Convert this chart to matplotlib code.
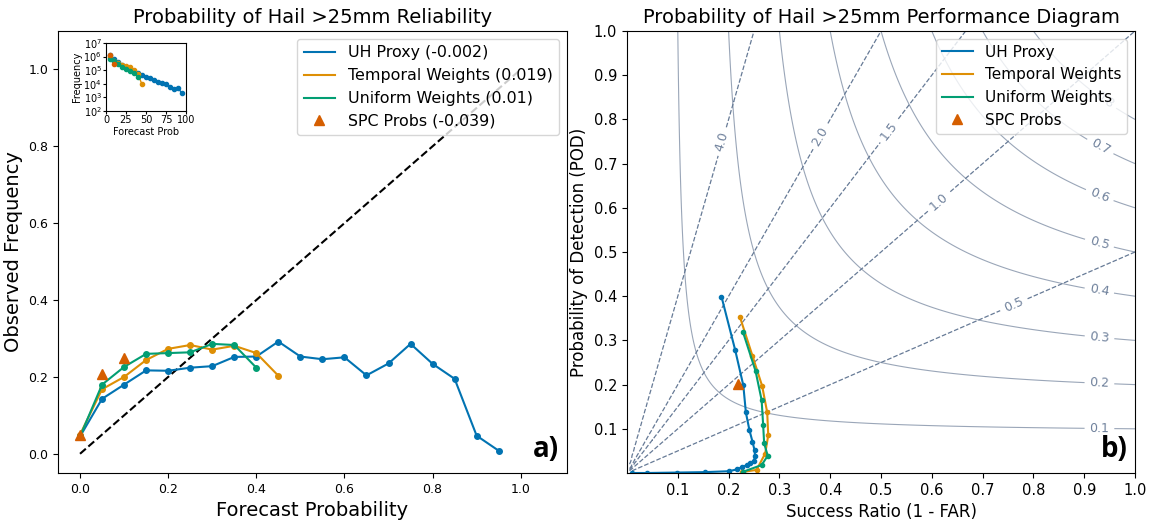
import numpy as np
import matplotlib
matplotlib.use('Agg')
import matplotlib.pyplot as plt
from matplotlib.lines import Line2D

# colours (seaborn colorblind)
c_uh, c_tw, c_uw, c_spc = '#0173B2', '#DE8F05', '#029E73', '#D55E00'

# reliability data
prob_uh = np.arange(0, 1.0, 0.05)
obs_uh = [0.045, 0.143, 0.18, 0.217, 0.216, 0.224, 0.228, 0.252, 0.253, 0.292,
          0.253, 0.246, 0.251, 0.204, 0.235, 0.286, 0.234, 0.195, 0.047, 0.008]
prob_tw = np.arange(0, 0.46, 0.05)
obs_tw = [0.05, 0.168, 0.2, 0.244, 0.273, 0.283, 0.271, 0.281, 0.262, 0.203]
prob_uw = np.arange(0, 0.41, 0.05)
obs_uw = [0.045, 0.18, 0.226, 0.26, 0.262, 0.264, 0.286, 0.283, 0.224]
prob_spc = [0.0, 0.05, 0.10]
obs_spc = [0.05, 0.208, 0.249]

# inset: counts per bin (log10)
bins_uh = np.arange(5, 96, 5)
logfreq_uh = [6.1, 5.85, 5.6, 5.4, 5.25, 5.1, 4.95, 4.8, 4.65, 4.5,
              4.4, 4.25, 4.15, 4.05, 3.95, 3.8, 3.6, 3.7, 3.3]
bins_tw = np.arange(5, 46, 5)
logfreq_tw = [6.0, 5.7, 5.5, 5.35, 5.3, 5.2, 5.0, 4.7, 3.95]
bins_uw = np.arange(5, 41, 5)
logfreq_uw = [5.85, 5.65, 5.45, 5.25, 5.1, 4.95, 4.8, 4.5]
bins_spc = [5, 10]
logfreq_spc = [6.1, 5.45]

# performance diagram data
sr_uh = [0.186, 0.213, 0.229, 0.234, 0.241, 0.247, 0.251, 0.252, 0.25, 0.242,
         0.236, 0.226, 0.216, 0.2, 0.154, 0.098, 0.039, 0.009]
pod_uh = [0.399, 0.278, 0.198, 0.137, 0.097, 0.071, 0.052, 0.039, 0.027, 0.022,
          0.018, 0.013, 0.008, 0.004, 0.002, 0.001, 0.0, 0.0]
sr_tw = [0.222, 0.247, 0.266, 0.276, 0.278, 0.272, 0.255, 0.226]
pod_tw = [0.354, 0.265, 0.197, 0.137, 0.085, 0.044, 0.007, 0.002]
sr_uw = [0.228, 0.253, 0.265, 0.268, 0.27, 0.277, 0.265, 0.229]
pod_uw = [0.32, 0.231, 0.165, 0.109, 0.067, 0.039, 0.018, 0.003]
sr_spc = [0.219]
pod_spc = [0.201]

fig = plt.figure(figsize=(11.51, 5.21), dpi=100)
ax1 = fig.add_axes([58/1151, 48/521, 509/1151, 442/521])
ax2 = fig.add_axes([627/1151, 48/521, 508/1151, 442/521])

# ---- reliability
ax1.plot([0, 1], [0, 1], 'k--', lw=1.5)
ax1.plot(prob_uh, obs_uh, '-o', color=c_uh, ms=4, lw=1.5)
ax1.plot(prob_tw, obs_tw, '-o', color=c_tw, ms=4, lw=1.5)
ax1.plot(prob_uw, obs_uw, '-o', color=c_uw, ms=4, lw=1.5)
spc1, = ax1.plot(prob_spc, obs_spc, '^', color=c_spc, ms=7)
ax1.set_xlim(-0.05, 1.105)
ax1.set_ylim(-0.05, 1.1)
ax1.set_xticks(np.arange(0, 1.01, 0.2))
ax1.set_yticks(np.arange(0, 1.01, 0.2))
ax1.tick_params(labelsize=9)
ax1.set_xlabel('Forecast Probability', fontsize=14)
ax1.set_ylabel('Observed Frequency', fontsize=14)
ax1.set_title('Probability of Hail >25mm Reliability', fontsize=14)
h = [Line2D([], [], color=c) for c in (c_uh, c_tw, c_uw)] + [spc1]
ax1.legend(h, ['UH Proxy (-0.002)', 'Temporal Weights (0.019)',
               'Uniform Weights (0.01)', 'SPC Probs (-0.039)'],
           loc='upper right', fontsize=11.4)
ax1.text(0.985, 0.02, 'a)', transform=ax1.transAxes, ha='right', va='bottom',
         fontsize=20, fontweight='bold', family='Open Sans')

ins = fig.add_axes([106/1151, (521-111)/521, 80/1151, 68/521])
ins.plot(bins_uh, 10**np.array(logfreq_uh), '-o', color=c_uh, ms=3, lw=1)
ins.plot(bins_tw, 10**np.array(logfreq_tw), '-o', color=c_tw, ms=3, lw=1)
ins.plot(bins_uw, 10**np.array(logfreq_uw), '-o', color=c_uw, ms=3, lw=1)
ins.plot(bins_spc, 10**np.array(logfreq_spc), 'o', color=c_spc, ms=3)
ins.set_yscale('log')
ins.set_ylim(1e2, 1e7)
ins.set_xlim(0, 100)
ins.set_xticks([0, 25, 50, 75, 100])
ins.set_yticks([1e2, 1e3, 1e4, 1e5, 1e6, 1e7])
ins.minorticks_off()
ins.tick_params(labelsize=7, length=2, pad=1)
ins.set_xlabel('Forecast Prob', fontsize=7, labelpad=1)
ins.set_ylabel('Frequency', fontsize=7, labelpad=1)

# ---- performance diagram
g = np.arange(0.005, 1.001, 0.005)
sr_g, pod_g = np.meshgrid(g, g)
bias = pod_g / sr_g
csi = 1.0 / (1.0 / sr_g + 1.0 / pod_g - 1.0)
cs = ax2.contour(sr_g, pod_g, csi, np.arange(0.1, 0.81, 0.1), colors='#9aa6b8', linewidths=0.8)
ax2.clabel(cs, fmt='%1.1f', fontsize=9, colors='#6f819c',
           manual=[(0.93, y) for y in (0.10, 0.204, 0.305, 0.414, 0.52, 0.627, 0.735, 0.83)])
bc = ax2.contour(sr_g, pod_g, bias, [0.5, 1, 1.5, 2, 4], colors='#667a96',
                 linestyles='dashed', linewidths=0.9)
ax2.clabel(bc, fmt='%1.1f', fontsize=9, colors='#6f819c',
           manual=[(0.76, 0.385), (0.61, 0.62), (0.51, 0.78), (0.376, 0.765), (0.187, 0.75)])
ax2.plot(sr_uh, pod_uh, '-o', color=c_uh, ms=3, lw=1.5)
ax2.plot(sr_tw, pod_tw, '-o', color=c_tw, ms=3, lw=1.5)
ax2.plot(sr_uw, pod_uw, '-o', color=c_uw, ms=3, lw=1.5)
spc2, = ax2.plot(sr_spc, pod_spc, '^', color=c_spc, ms=7)
ax2.set_xlim(0, 1)
ax2.set_ylim(0, 1)
ax2.set_xticks(np.arange(0.1, 1.01, 0.1))
ax2.set_yticks(np.arange(0.1, 1.01, 0.1))
ax2.tick_params(labelsize=10.5)
ax2.set_xlabel('Success Ratio (1 - FAR)', fontsize=12)
ax2.set_ylabel('Probability of Detection (POD)', fontsize=12)
ax2.set_title('Probability of Hail >25mm Performance Diagram', fontsize=14)
h2 = [Line2D([], [], color=c) for c in (c_uh, c_tw, c_uw)] + [spc2]
ax2.legend(h2, ['UH Proxy', 'Temporal Weights', 'Uniform Weights', 'SPC Probs'],
           loc='upper right', fontsize=11)
ax2.text(0.985, 0.02, 'b)', transform=ax2.transAxes, ha='right', va='bottom',
         fontsize=20, fontweight='bold', family='Open Sans')

fig.savefig('out.png', dpi=100)
